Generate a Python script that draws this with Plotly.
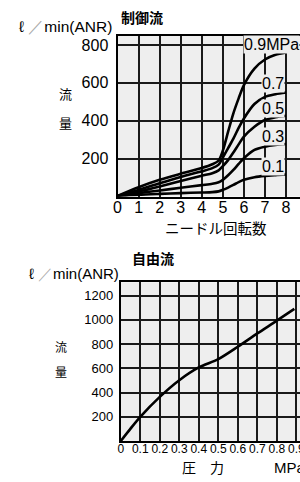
import plotly.graph_objects as go

# ---- Data: 制御流 (needle rotations vs flow) ----
turns = [0, 1, 2, 3, 4, 4.5, 4.8, 5, 5.25, 5.5, 5.75, 6, 6.5, 7, 7.5, 8]
flow_09 = [3, 49, 88, 120, 150, 170, 190, 242, 342, 439, 518, 588, 675, 723, 748, 760]
flow_07 = [3, 35, 70, 103, 133, 150, 168, 205, 255, 305, 362, 412, 488, 526, 540, 549]
flow_05 = [2, 26, 53, 82, 110, 123, 138, 160, 192, 232, 275, 316, 368, 404, 418, 426]
flow_03 = [2, 18, 32, 46, 60, 67, 75, 88, 112, 140, 172, 202, 246, 263, 272, 277]
flow_01 = [1, 9, 14, 18, 21, 23, 27, 35, 47, 61, 76, 88, 102, 109, 113, 116]
ctrl_series = [("0.9MPa", flow_09), ("0.7", flow_07), ("0.5", flow_05), ("0.3", flow_03), ("0.1", flow_01)]
ctrl_xticks = [0, 1, 2, 3, 4, 5, 6, 7, 8]
ctrl_yticks = [200, 400, 600, 800]

# ---- Data: 自由流 (pressure vs flow) ----
pressure = [0, 0.05, 0.1, 0.2, 0.3, 0.4, 0.5, 0.6, 0.7, 0.8, 0.89]
free_flow = [0, 102, 199, 364, 502, 607, 676, 778, 888, 993, 1090]
free_xticks = [0, 0.1, 0.2, 0.3, 0.4, 0.5, 0.6, 0.7, 0.8, 0.9]
free_xlabels = ["0", "0.1", "0.2", "0.3", "0.4", "0.5", "0.6", "0.7", "0.8", "0.9"]
free_yticks = [200, 400, 600, 800, 1000, 1200]

W, H = 312, 482   # canvas slightly wider than the 300px window so the plots run off the right edge
BG = "#eeeeee"
GRID = "#1a1a1a"
LAT = "Liberation Sans, Arial, sans-serif"
CJK = "Noto Sans CJK JP, sans-serif"

fig = go.Figure()
for name, ys in ctrl_series:
    fig.add_trace(go.Scatter(x=turns, y=ys, mode="lines", line=dict(color="black", width=2.6, shape="spline", smoothing=0.8),
                             xaxis="x", yaxis="y", showlegend=False, hoverinfo="skip"))
fig.add_trace(go.Scatter(x=pressure, y=free_flow, mode="lines", line=dict(color="black", width=2.6, shape="spline", smoothing=0.8),
                         xaxis="x2", yaxis="y2", showlegend=False, hoverinfo="skip"))

def axis_common(gw):
    return dict(showgrid=True, gridcolor=GRID, gridwidth=gw, zeroline=False,
                showline=True, linecolor="black", linewidth=2, ticks="", fixedrange=True)

top_px_per_unit = (285.7 - 115) / 8
bot_px_per_unit = (296.1 - 118.3) / 0.9

fig.update_layout(
    width=W, height=H, margin=dict(l=0, r=0, t=0, b=0),
    paper_bgcolor="white", plot_bgcolor=BG, showlegend=False,
    xaxis=dict(domain=[115 / W, 1], range=[0, (W - 115) / top_px_per_unit], tickvals=ctrl_xticks, mirror=True,
               tickfont=dict(family=LAT, size=16, color="black"), anchor="y", ticklabelstandoff=-5, **axis_common(1.5)),
    yaxis=dict(domain=[1 - 196.5 / H, 1 - 36 / H], range=[0, 847], tickvals=ctrl_yticks,
               tickfont=dict(family=LAT, size=16, color="black"), anchor="x", ticklabelstandoff=4, **axis_common(1.5)),
    xaxis2=dict(domain=[118.3 / W, 1], range=[0, (W - 118.3) / bot_px_per_unit], tickvals=free_xticks, ticktext=free_xlabels,
                mirror=True, tickfont=dict(family=LAT, size=12, color="black"), anchor="y2", ticklabelstandoff=-4,
                **axis_common(2)),
    yaxis2=dict(domain=[1 - 441 / H, 1 - 282.3 / H], range=[0, 1310], tickvals=free_yticks,
                tickfont=dict(family=LAT, size=13, color="black"), anchor="x2", ticklabelstandoff=3, **axis_common(2)),
)

def px_ann(text, x, y, size, family, xanchor="center", **kw):
    fig.add_annotation(text=text, xref="paper", yref="paper", x=x / W, y=1 - y / H,
                       xanchor=xanchor, yanchor="middle", showarrow=False,
                       font=dict(family=family, size=size, color="black"), **kw)

unit = "ℓ <span style='color:#aaaaaa'>／</span>min(ANR)"
# top chart texts
px_ann("<b>制御流</b>", 139.5, 17, 14, CJK)
px_ann(unit, 111, 26, 15.5, LAT, xanchor="right")
px_ann("流", 62.5, 94, 13, CJK)
px_ann("量", 62.5, 122.5, 13, CJK)
px_ann("ニードル回転数", 215, 227, 14.5, CJK)
# bottom chart texts
px_ann("<b>自由流</b>", 151, 257.5, 14, CJK)
px_ann(unit, 119, 273, 15, LAT, xanchor="right")
px_ann("流", 57.5, 346, 12, CJK)
px_ann("量", 57.5, 371.5, 12, CJK)
px_ann("圧　力", 202, 467, 14, CJK)
px_ann("MPa", 271, 467, 15, LAT, xanchor="left")

# curve labels (top chart)
label_pos = [("0.9MPa", 7.3, 800), ("0.7", 7.4, 598), ("0.5", 7.4, 462), ("0.3", 7.4, 319), ("0.1", 7.4, 157)]
for txt, lx, ly in label_pos:
    fig.add_annotation(text=txt, x=lx, y=ly, xref="x", yref="y", showarrow=False, xanchor="center", yanchor="middle",
                       bgcolor=BG, borderpad=0, font=dict(family=LAT, size=16, color="black"))

fig.write_html("out.html", config={"displayModeBar": False},
               post_script="document.body.style.margin='0';document.body.style.overflow='hidden';"
                           "document.documentElement.style.overflow='hidden';")
